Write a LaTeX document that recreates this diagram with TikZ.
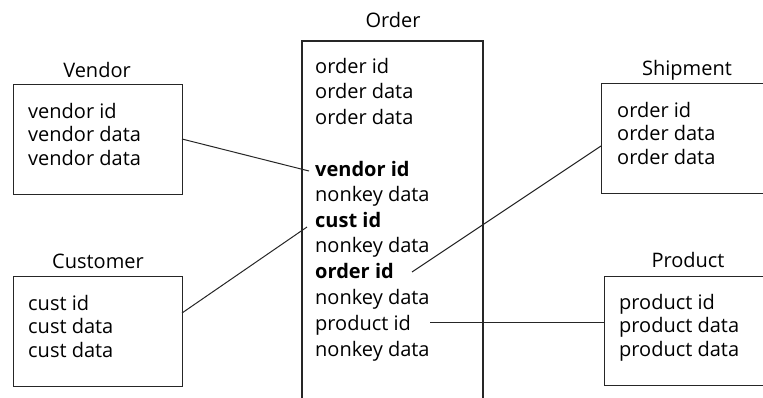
\documentclass[tikz,border=0pt]{standalone}
\usepackage{fontspec}
\setmainfont{Open Sans}
\begin{document}
\begin{tikzpicture}[x=1pt,y=-1pt,
  box/.style={draw=black!85,line width=1.1pt,rectangle,inner sep=0pt,anchor=north west},
  txt/.style={anchor=base west,inner sep=0pt,font=\fontsize{20}{22}\selectfont},
  btxt/.style={txt,font=\fontsize{20}{22}\selectfont\bfseries},
  ttl/.style={anchor=base,inner sep=0pt,font=\fontsize{20}{22}\selectfont},
  link/.style={draw=black!85,line width=1pt}]
\useasboundingbox (0,0) rectangle (763,397);
\clip (0,0) rectangle (763,397);
% Vendor
\node[ttl] (vt) at (97,77) {Vendor};
\node[box,minimum width=169pt,minimum height=110pt] (vendor) at (13,84) {};
\node[txt] (v1) at (28,118) {vendor id};
\node[txt] (v2) at (28,141.5) {vendor data};
\node[txt] (v3) at (28,165) {vendor data};
% Customer
\node[ttl] (ct) at (98,268) {Customer};
\node[box,minimum width=169pt,minimum height=110pt] (customer) at (13,276) {};
\node[txt] (c1) at (28,310) {cust id};
\node[txt] (c2) at (28,333.5) {cust data};
\node[txt] (c3) at (28,357) {cust data};
% Order
\node[ttl] (ot) at (393,27) {Order};
\coordinate (obl) at (302,400);
\coordinate (otl) at (302,41);
\coordinate (otr) at (483,41);
\coordinate (obr) at (483,400);
\draw[link,line width=1.1pt] (obl) -- (otl) -- (otr) -- (obr);
\node[txt] (o1) at (315,73) {order id};
\node[txt] (o2) at (315,98.5) {order data};
\node[txt] (o3) at (315,124) {order data};
\node[btxt] (o4) at (315,176) {vendor id};
\node[txt] (o5) at (315,201.5) {nonkey data};
\node[btxt] (o6) at (315,227) {cust id};
\node[txt] (o7) at (315,252.5) {nonkey data};
\node[btxt] (o8) at (315,278.5) {order id};
\node[txt] (o9) at (315,304) {nonkey data};
\node[txt] (o10) at (315,330) {product id};
\node[txt] (o11) at (315,356) {nonkey data};
% Shipment
\node[ttl] (st) at (687,75) {Shipment};
\node[box,minimum width=180pt,minimum height=110pt] (shipment) at (601,83) {};
\node[txt] (s1) at (617,117) {order id};
\node[txt] (s2) at (617,140.5) {order data};
\node[txt] (s3) at (617,164) {order data};
% Product
\node[ttl] (pt) at (688,267) {Product};
\node[box,minimum width=180pt,minimum height=109pt] (product) at (604,276) {};
\node[txt] (p1) at (619,309) {product id};
\node[txt] (p2) at (619,332.5) {product data};
\node[txt] (p3) at (619,356) {product data};
% connectors
\coordinate (vA) at (182,139);
\coordinate (vB) at (309,171);
\coordinate (cA) at (182,313);
\coordinate (cB) at (307,227);
\coordinate (sA) at (412,272);
\coordinate (sB) at (601,146);
\coordinate (pA) at (430,322);
\coordinate (pB) at (604,322);
\draw[link] (vA) -- (vB);
\draw[link] (cA) -- (cB);
\draw[link] (sA) -- (sB);
\draw[link] (pA) -- (pB);
\end{tikzpicture}
\end{document}
